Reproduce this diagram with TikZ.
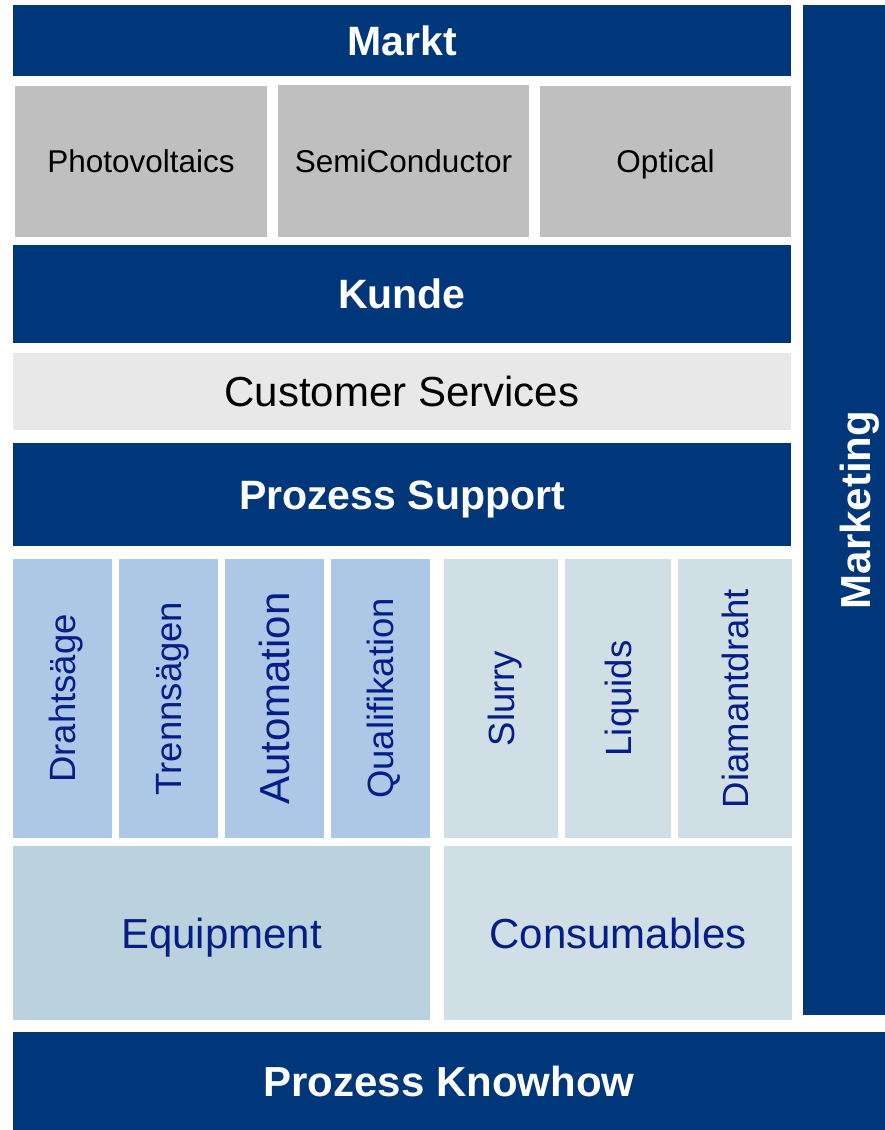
\documentclass[tikz,border=0pt]{standalone}
\usepackage{fontspec}
\setmainfont{Liberation Sans}
\definecolor{darkblue}{RGB}{0,55,122}
\definecolor{midgray}{RGB}{191,191,191}
\definecolor{palegray}{RGB}{232,232,232}
\definecolor{lightblue}{RGB}{172,200,230}
\definecolor{paleblue}{RGB}{208,222,230}
\definecolor{equipblue}{RGB}{186,210,222}
\definecolor{navytext}{RGB}{5,30,135}
\tikzset{
    box/.style = {rectangle, inner sep=0pt, align=center, text centered, text depth=0pt},
    bar_dark/.style = {box, fill=darkblue, text=white, font=\fontsize{41}{48}\selectfont\bfseries, text height=29.4pt},
    box_gray/.style = {box, fill=midgray, text=black, font=\fontsize{31.5}{36}\selectfont, text height=22.6pt, minimum width=252pt, minimum height=151pt},
    box_service/.style = {box, fill=palegray, text=black, font=\fontsize{42}{48}\selectfont, text height=30.1pt},
    box_tool/.style = {box, rotate=90, fill=lightblue, text=navytext, font=\fontsize{36.5}{42}\selectfont, text height=26.1pt, minimum width=279pt, minimum height=99pt},
    box_supply/.style = {box, rotate=90, fill=paleblue, text=navytext, font=\fontsize{36.5}{42}\selectfont, text height=26.1pt, minimum width=279pt},
    box_group/.style = {box, text=navytext, font=\fontsize{42}{48}\selectfont, text height=30.1pt, minimum height=174pt}
}
\begin{document}
\begin{tikzpicture}[x=1pt, y=-1pt]
    \useasboundingbox (0,0) rectangle (885,1130);
    \node [bar_dark, minimum width=778pt, minimum height=71pt] (markt) at (402,40.5) {Markt}; % TOP
    \node [box_gray] (photo) at (141,161.5) {Photovoltaics};
    \node [box_gray, minimum width=251pt, minimum height=152pt] (semi) at (403.5,161) {SemiConductor};
    \node [box_gray, minimum width=251pt] (optical) at (665.5,161.5) {Optical};
    \node [bar_dark, minimum width=778pt, minimum height=98pt] (kunde) at (402,294) {Kunde};
    \node [box_service, minimum width=778pt, minimum height=77pt] (service) at (402,391.5) {Customer Services};
    \node [bar_dark, minimum width=778pt, minimum height=103pt] (support) at (402,494.5) {Prozess Support};
    % equipment columns
    \node [box_tool] (draht) at (62.5,698.5) {Drahtsäge};
    \node [box_tool] (trenn) at (168.5,698.5) {Trennsägen};
    \node [box_tool, font=\fontsize{42}{48}\selectfont, text height=30.1pt] (auto) at (274.5,698.5) {Automation};
    \node [box_tool] (quali) at (380.5,698.5) {Qualifikation};
    % consumables columns
    \node [box_supply, minimum height=114pt] (slurry) at (501,698.5) {Slurry};
    \node [box_supply, minimum height=106pt] (liquids) at (618,698.5) {Liquids};
    \node [box_supply, minimum height=114pt] (diamant) at (735,698.5) {Diamantdraht};
    \node [box_group, fill=equipblue, minimum width=417pt] (equip) at (221.5,933) {Equipment};
    \node [box_group, fill=paleblue, minimum width=348pt] (consum) at (618,933) {Consumables};
    \node [bar_dark, rotate=90, font=\fontsize{42}{48}\selectfont\bfseries, text height=52pt, minimum width=1010pt, minimum height=82pt] (marketing) at (844,510) {Marketing}; % SIDE
    \node [bar_dark, font=\fontsize{42}{48}\selectfont\bfseries, text height=30.1pt, minimum width=872pt, minimum height=98pt] (knowhow) at (449,1081) {Prozess Knowhow}; % BOTTOM
\end{tikzpicture}
\end{document}
